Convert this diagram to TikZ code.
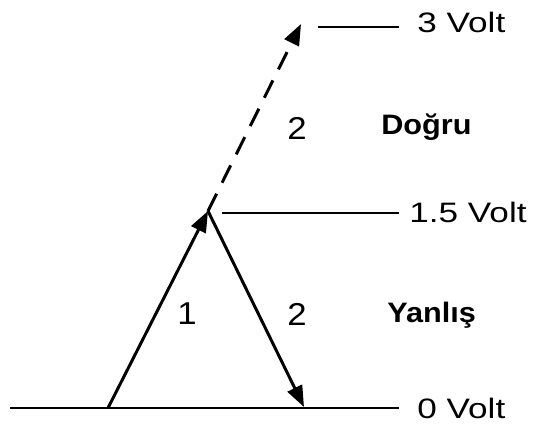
\documentclass[tikz,border=0pt]{standalone}
\usepackage{fontspec}
\setmainfont{Liberation Sans}
\newfontfamily\voltfont[FakeStretch=1.25]{Liberation Sans}
\newfontfamily\sayifont[FakeStretch=1.1]{Liberation Sans}
\newfontfamily\palabrafont[FakeStretch=1.09]{Liberation Sans}
\usetikzlibrary{arrows.meta}

\begin{document}
\begin{tikzpicture}[x=0.02cm, y=-0.02cm,
			 flecha/.style={line width=1.7pt, -{Triangle[length=12pt, width=9pt]}},
			 nivel/.style={line width=1.1pt},
			 etiqueta/.style={font=\voltfont\fontsize{16}{19}\selectfont, anchor=base west, inner sep=0pt},
			 palabra/.style={font=\palabrafont\bfseries\fontsize{16}{19}\selectfont, anchor=base west, inner sep=0pt},
			 numero/.style={font=\sayifont\fontsize{18}{21}\selectfont, inner sep=0pt}
  		]
	\useasboundingbox (0,0) rectangle (537,432);

	%Puntos del triangulo
		\coordinate (p0) at (108,408);
		\coordinate (cima) at (208,211);
		\coordinate (p2) at (304,407);
		\coordinate (tope) at (301,24);
	%Etiquetas de voltaje
		\node[etiqueta] (v3) at (417,33) {3 Volt};
		\node[etiqueta] (v15) at (409,222) {1.5 Volt};
		\node[etiqueta] (v0) at (417,418) {0 Volt};
		\coordinate (c3) at (318,27);
		\coordinate (e3) at (399,27);
		\coordinate (c15) at (222,213);
		\coordinate (e15) at (399,213);
		\coordinate (c0) at (10,408);
		\coordinate (e0) at (399,408);
	%Lineas de nivel
		\draw[nivel] (c3) -- (e3);
		\draw[nivel] (c15) -- (e15);
		\draw[nivel] (c0) -- (e0);
	%Flechas
		\draw[flecha] (p0) -- (cima);
		\draw[flecha] (cima) -- (p2);
		\draw[flecha, dash pattern=on 11pt off 7pt] (cima) -- (tope);
	%Numeros y textos
		\node[numero] (n1) at (187,314) {1};
		\node[numero] (n2) at (297,314) {2};
		\node[numero] (n3) at (297,128) {2};
		\node[palabra] (dogru) at (381,135) {Doğru};
		\node[palabra] (yanlis) at (387,322) {Yanlış};
\end{tikzpicture}
\end{document}
